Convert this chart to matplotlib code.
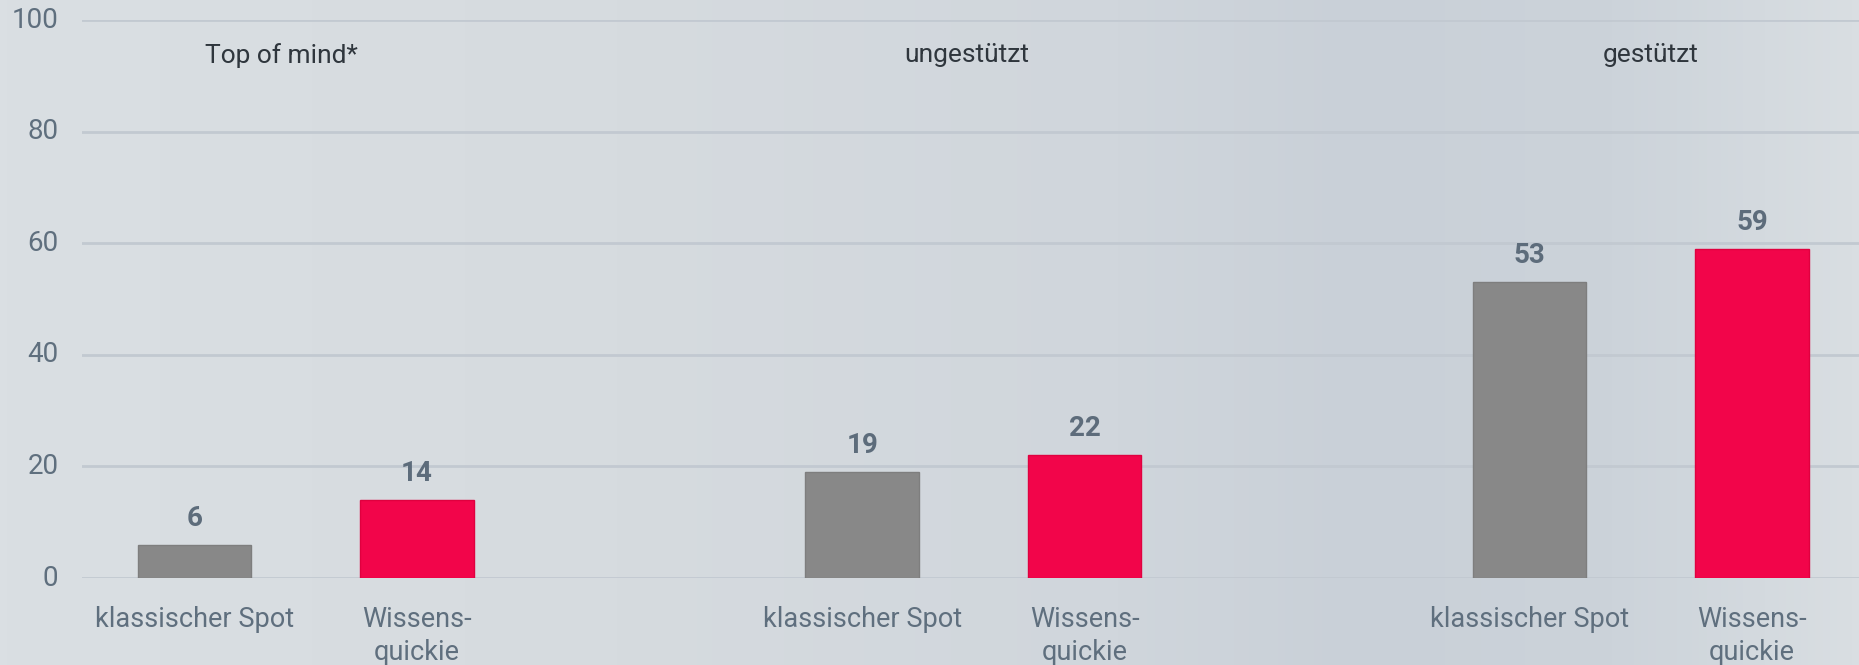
import numpy as np
import matplotlib.pyplot as plt
from matplotlib.colors import LinearSegmentedColormap

plt.rcParams["font.family"] = ["Roboto", "DejaVu Sans"]

groups = ["Top of mind*", "ungestützt", "gestützt"]
bar_labels = ["klassischer Spot", "Wissens-\nquickie"]
klassisch = [6, 19, 53]
wissen = [14, 22, 59]
yticks = [0, 20, 40, 60, 80, 100]

GRAY = "#888888"
RED = "#f2054a"
TICK_COLOR = "#5f6f7e"
VALUE_COLOR = "#5d6c7b"
TITLE_COLOR = "#2f363d"
GRID_COLOR = "#c2c9d1"

fig = plt.figure(figsize=(18.59, 6.65), dpi=100)

# background gradient
bg = fig.add_axes([0, 0, 1, 1], zorder=-10)
bg_cmap = LinearSegmentedColormap.from_list(
    "bg",
    [(0.0, "#dadfe3"), (0.33, "#d6dbdf"), (0.6, "#d0d6dc"),
     (0.73, "#c9d0d8"), (0.87, "#ccd3da"), (1.0, "#d9dee2")])
bg.imshow(np.linspace(0, 1, 512).reshape(1, -1), aspect="auto", cmap=bg_cmap,
          extent=[0, 1, 0, 1])
bg.axis("off")

ax = fig.add_axes([82 / 1859, (665 - 578) / 665, 1 - 82 / 1859, (578 - 20) / 665])
ax.patch.set_alpha(0)

pos_k = [g * 3 for g in range(len(groups))]
pos_w = [g * 3 + 1 for g in range(len(groups))]
bars_k = ax.bar(pos_k, klassisch, width=0.51, color=GRAY, edgecolor="#7e7e7e", lw=1, zorder=3)
bars_w = ax.bar(pos_w, wissen, width=0.51, color=RED, edgecolor="#e0003f", lw=1, zorder=3)

for bars, vals in [(bars_k, klassisch), (bars_w, wissen)]:
    for b, v in zip(bars, vals):
        ax.annotate(str(v), (b.get_x() + b.get_width() / 2, v), xytext=(0, 19),
                    textcoords="offset points", ha="center", va="center",
                    fontsize=20, fontweight="bold", color=VALUE_COLOR,
                    family=["Roboto", "DejaVu Sans"])

title_x = [0.389, 3.47, 6.546]
for x, t in zip(title_x, groups):
    ax.text(x, 93.7, t, ha="center", va="center", fontsize=19, color=TITLE_COLOR)

ax.set_xlim(-0.506, 7.48)
ax.set_ylim(0, 100)
ax.set_yticks(yticks)
ax.set_xticks(pos_k + pos_w)
ax.set_xticklabels([bar_labels[0]] * 3 + [bar_labels[1]] * 3, va="top", linespacing=1.3)
ax.tick_params(axis="x", length=0, labelsize=19.5, labelcolor=TICK_COLOR, pad=20)
ax.tick_params(axis="y", length=0, labelsize=20, labelcolor=TICK_COLOR, pad=17)
for lbl in ax.get_yticklabels():
    lbl.set_verticalalignment("center")
ax.grid(axis="y", color=GRID_COLOR, lw=2, zorder=0)
for s in ax.spines.values():
    s.set_visible(False)

fig.savefig("out.png", dpi=100)
